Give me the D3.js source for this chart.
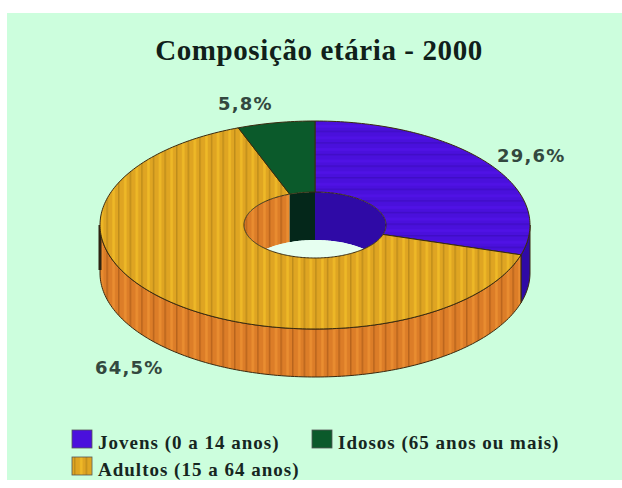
<!DOCTYPE html>
<html>
<head>
<meta charset="utf-8">
<script src="https://cdn.jsdelivr.net/npm/d3@7"></script>
<style>
html, body { margin: 0; padding: 0; background: #fff; }
svg { display: block; }
</style>
</head>
<body>
<svg id="chart" width="622" height="488"></svg>
<script>
const titleText = "Composição etária - 2000";
const categories = ["Jovens (0 a 14 anos)", "Adultos (15 a 64 anos)", "Idosos (65 anos ou mais)"];
const shares = [29.6, 64.5, 5.8];
const shareLabels = ["29,6%", "64,5%", "5,8%"];
const topFills = ["url(#rowsViolet)", "url(#colsGold)", "#0b5a2b"];
const wallFills = ["#2f0aa6", "url(#colsOrange)", "#04271a"];
const legendFills = ["#4a10dc", "url(#colsGold)", "#0b5a2b"];

const svg = d3.select("#chart");
const defs = svg.append("defs");

function stripes(id, vertical, base, shade, glint) {
  const size = 11.6;
  const p = defs.append("pattern").attr("id", id).attr("patternUnits", "userSpaceOnUse")
    .attr("x", vertical ? 2 : 0).attr("y", vertical ? 0 : 3)
    .attr("width", vertical ? size : 8).attr("height", vertical ? 8 : size);
  p.append("rect").attr("width", 12).attr("height", 12).attr("fill", base);
  const bar = (at, w, c) => p.append("rect")
    .attr(vertical ? "x" : "y", at).attr(vertical ? "y" : "x", 0)
    .attr(vertical ? "width" : "height", w).attr(vertical ? "height" : "width", 12)
    .attr("fill", c);
  bar(0, 1.5, shade);
  bar(6, 2.5, glint);
}
stripes("colsGold", true, "#dfa522", "#bf8d1b", "#efb927");
stripes("colsOrange", true, "#dc7d28", "#b8641d", "#ea8e31");
stripes("rowsViolet", false, "#4a10dc", "#400dc6", "#5012e6");

svg.append("rect").attr("x", 7).attr("y", 13).attr("width", 615).attr("height", 467).attr("fill", "#ccfedd");

// Ring geometry: elliptical plan view, extruded downwards by `depth`.
const cx = 315, cy = 225, depth = 48;
const outer = { x: d3.scaleLinear([-1, 1], [cx - 215, cx + 215]), y: d3.scaleLinear([-1, 1], [cy - 104, cy + 104]) };
const inner = { x: d3.scaleLinear([-1, 1], [cx - 71, cx + 71]), y: d3.scaleLinear([-1, 1], [cy - 33, cy + 33]) };

const at = (ring, a, drop = 0) => [ring.x(Math.sin(a)), ring.y(-Math.cos(a)) + drop];
const sweep = (a0, a1) => {
  const n = Math.max(2, Math.ceil(Math.abs(a1 - a0) / 0.02));
  return d3.range(n + 1).map(i => a0 + (a1 - a0) * i / n);
};
const closed = d3.line().curve(d3.curveLinearClosed);

const slices = d3.pie().sort(null).value(d => d)(shares);
const edge = "#3a2a10";

// Outer wall, only the front half of the ring faces the viewer.
const frontA = Math.PI / 2, frontB = 3 * Math.PI / 2;
svg.append("g").selectAll("path").data(slices).join("path")
  .attr("d", d => {
    const a0 = Math.max(d.startAngle, frontA), a1 = Math.min(d.endAngle, frontB);
    if (a1 <= a0) return null;
    const arc = sweep(a0, a1);
    return closed([...arc.map(a => at(outer, a)), ...arc.slice().reverse().map(a => at(outer, a, depth))]);
  })
  .attr("fill", (d, i) => wallFills[i])
  .attr("stroke", edge).attr("stroke-width", 1);

// Heavy shadow along the silhouette at the widest point of the ring.
svg.append("line")
  .attr("x1", outer.x(-1)).attr("x2", outer.x(-1))
  .attr("y1", outer.y(0)).attr("y2", outer.y(0) + depth - 3)
  .attr("stroke", "#2c2312").attr("stroke-width", 3);

// Hole: background seen through, then the far inner wall clipped to the opening.
const holeOutline = closed(sweep(0, 2 * Math.PI).map(a => at(inner, a)));
defs.append("clipPath").attr("id", "hole").append("path").attr("d", holeOutline);
svg.append("path").attr("d", holeOutline).attr("fill", "#e6fff0");
const holeWalls = svg.append("g").attr("clip-path", "url(#hole)");
holeWalls.selectAll("path").data(slices).join("path")
  .attr("d", d => {
    const arc = sweep(d.startAngle, d.endAngle);
    return closed([...arc.map(a => at(inner, a)), ...arc.slice().reverse().map(a => at(inner, a, depth))]);
  })
  .attr("fill", (d, i) => wallFills[i]);

// The lower rim of the opening leaves a sliver of background visible.
const lens = closed(sweep(0, 2 * Math.PI).map(a => at(inner, a, depth)));
holeWalls.append("path").attr("d", lens).attr("fill", "#e6fff0");

// Top face.
svg.append("g").selectAll("path").data(slices).join("path")
  .attr("d", d => {
    const arc = sweep(d.startAngle, d.endAngle);
    return closed([...arc.map(a => at(outer, a)), ...arc.slice().reverse().map(a => at(inner, a))]);
  })
  .attr("fill", (d, i) => topFills[i])
  .attr("stroke", edge).attr("stroke-width", 1);

// Title, slice labels and legend.
svg.append("text").attr("x", 319).attr("y", 60).attr("text-anchor", "middle")
  .attr("font-family", "Liberation Serif").attr("font-weight", "bold").attr("font-size", 29)
  .attr("letter-spacing", 0.6).attr("fill", "#10201a").text(titleText);

const labelSpots = [[497, 162], [95, 374], [218, 110]];
svg.append("g").selectAll("text").data(shareLabels).join("text")
  .attr("x", (d, i) => labelSpots[i][0]).attr("y", (d, i) => labelSpots[i][1])
  .attr("font-family", "DejaVu Sans").attr("font-weight", "bold").attr("font-size", 18)
  .attr("letter-spacing", 1.2).attr("fill", "#33483f").text(d => d);

const legendSpots = [[72, 430], [72, 457], [312, 430]];
const legend = svg.append("g").selectAll("g").data(categories).join("g")
  .attr("transform", (d, i) => `translate(${legendSpots[i]})`);
legend.append("rect").attr("width", 20).attr("height", 18)
  .attr("fill", (d, i) => legendFills[i]).attr("stroke", "#555").attr("stroke-width", 0.8);
legend.append("text").attr("x", 26).attr("y", 19)
  .attr("font-family", "Liberation Serif").attr("font-weight", "bold").attr("font-size", 19)
  .attr("letter-spacing", 1).attr("fill", "#16261f").text(d => d);
</script>
</body>
</html>
